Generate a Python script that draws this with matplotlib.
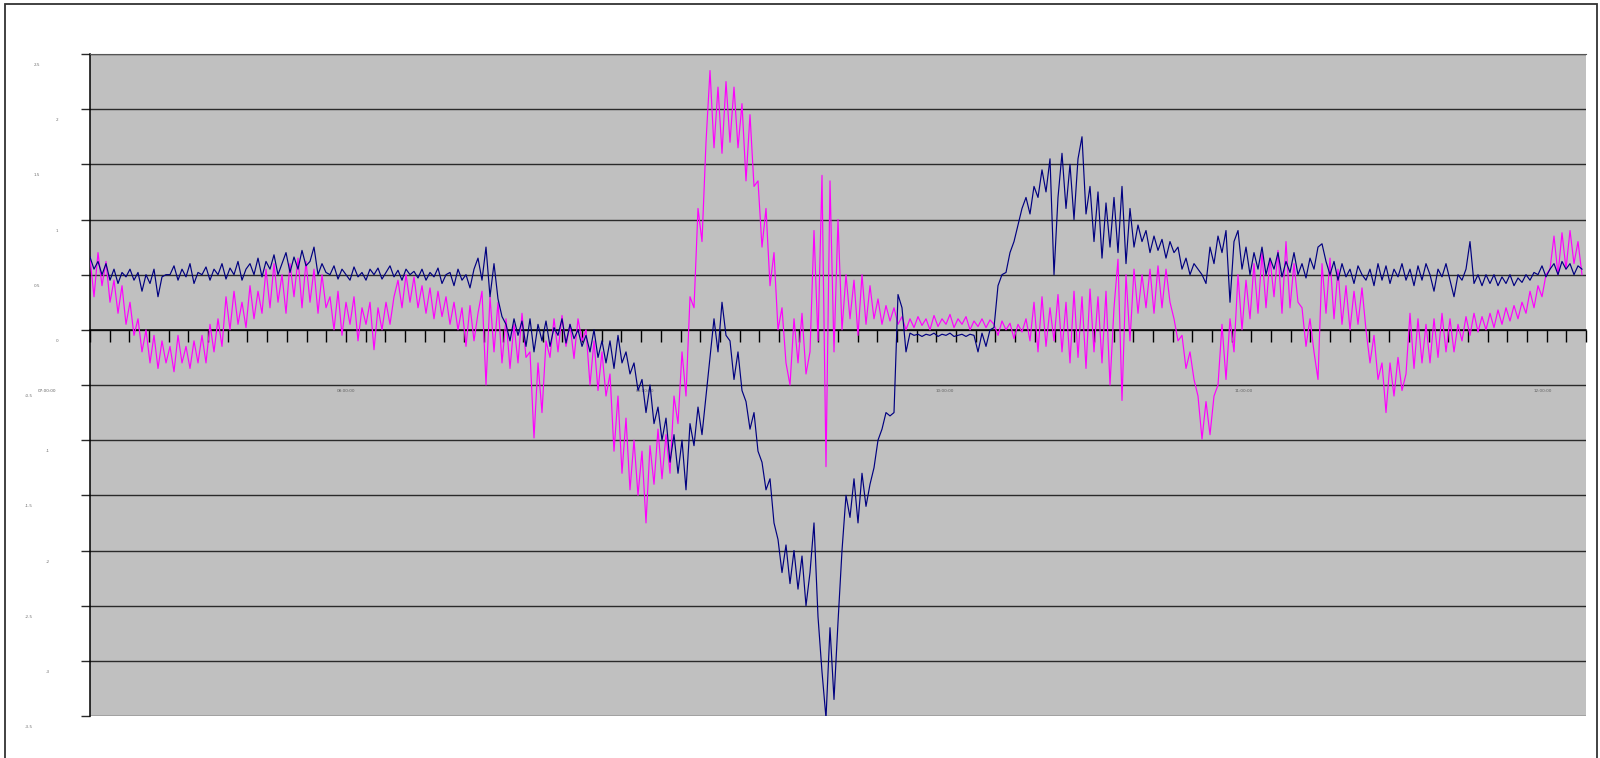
import matplotlib
matplotlib.use('Agg')
import matplotlib.pyplot as plt
import numpy as np
from matplotlib.patches import Rectangle

# readings, one sample every 4 px of the plot area (left to right)
navy_vals = [
    0.66, 0.55, 0.62, 0.5, 0.6, 0.45, 0.55, 0.42, 0.52, 0.48,
    0.55, 0.45, 0.52, 0.35, 0.5, 0.42, 0.55, 0.3, 0.48, 0.5,
    0.5, 0.58, 0.45, 0.55, 0.48, 0.6, 0.42, 0.52, 0.5, 0.57,
    0.45, 0.55, 0.5, 0.6, 0.46, 0.56, 0.5, 0.62, 0.45, 0.55,
    0.6, 0.5, 0.65, 0.48, 0.62, 0.55, 0.68, 0.5, 0.6, 0.7,
    0.52, 0.66, 0.55, 0.72, 0.58, 0.62, 0.75, 0.5, 0.6, 0.52,
    0.5, 0.58, 0.46, 0.55, 0.5, 0.45, 0.57, 0.48, 0.52, 0.45,
    0.55, 0.5, 0.56, 0.46, 0.52, 0.58, 0.48, 0.54, 0.45, 0.55,
    0.5, 0.53, 0.47, 0.55, 0.45, 0.52, 0.48, 0.56, 0.42, 0.5,
    0.52, 0.4, 0.55, 0.45, 0.5, 0.38, 0.55, 0.65, 0.45, 0.75,
    0.3, 0.6, 0.28, 0.12, 0.05, -0.1, 0.1, -0.05, 0.08, -0.15,
    0.1, -0.2, 0.05, -0.1, 0.08, -0.15, 0.02, -0.05, 0.1, -0.12,
    0.05, -0.08, 0.0, -0.15, -0.05, -0.2, 0.0, -0.25, -0.1, -0.3,
    -0.1, -0.35, -0.05, -0.3, -0.2, -0.4, -0.3, -0.55, -0.45, -0.75,
    -0.5, -0.85, -0.7, -1.0, -0.8, -1.2, -0.95, -1.3, -1.0, -1.45,
    -0.85, -1.05, -0.7, -0.95, -0.6, -0.25, 0.1, -0.2, 0.25, -0.05,
    -0.1, -0.45, -0.2, -0.55, -0.65, -0.9, -0.75, -1.1, -1.2, -1.45,
    -1.35, -1.75, -1.9, -2.2, -1.95, -2.3, -2.0, -2.35, -2.05, -2.5,
    -2.2, -1.75, -2.6, -3.1, -3.52, -2.7, -3.35, -2.65, -2.0, -1.5,
    -1.7, -1.35, -1.75, -1.3, -1.6, -1.4, -1.25, -1.0, -0.9, -0.75,
    -0.78, -0.75, 0.32, 0.2, -0.2, -0.03, -0.05, -0.04, -0.06, -0.04,
    -0.05, -0.03, -0.06, -0.04, -0.05, -0.03, -0.06, -0.05, -0.04, -0.06,
    -0.04, -0.05, -0.2, -0.03, -0.15, 0.0, 0.02, 0.4, 0.5, 0.52,
    0.7, 0.8, 0.95, 1.1, 1.2, 1.05, 1.3, 1.2, 1.45, 1.25,
    1.55, 0.5, 1.2, 1.6, 1.1, 1.5, 1.0, 1.55, 1.75, 1.05,
    1.3, 0.8, 1.25, 0.65, 1.15, 0.75, 1.2, 0.7, 1.3, 0.6,
    1.1, 0.75, 0.95, 0.8, 0.9, 0.7, 0.85, 0.72, 0.82, 0.65,
    0.8, 0.7, 0.75, 0.55, 0.65, 0.5, 0.6, 0.55, 0.5, 0.42,
    0.75, 0.6, 0.85, 0.7, 0.9, 0.25, 0.8, 0.9, 0.55, 0.75,
    0.5, 0.7, 0.55, 0.75, 0.5, 0.65, 0.55, 0.7, 0.48, 0.62,
    0.52, 0.7, 0.5, 0.6, 0.47, 0.65, 0.55, 0.75, 0.78, 0.62,
    0.5, 0.62, 0.45, 0.6, 0.48, 0.55, 0.42, 0.58, 0.5, 0.45,
    0.55, 0.4, 0.6, 0.45, 0.58, 0.42, 0.55, 0.48, 0.6, 0.45,
    0.55, 0.4, 0.58, 0.45, 0.6, 0.5, 0.35, 0.55, 0.48, 0.6,
    0.45, 0.3, 0.5, 0.45, 0.55, 0.8, 0.42, 0.5, 0.4, 0.5,
    0.42, 0.5, 0.4, 0.48, 0.42, 0.5, 0.4, 0.47, 0.43, 0.5,
    0.45, 0.52, 0.5, 0.58, 0.48, 0.55, 0.6, 0.5, 0.62, 0.55, 0.6, 0.5, 0.58, 0.55,
]

magenta_vals = [
    0.65, 0.3, 0.7, 0.4, 0.62, 0.25, 0.45, 0.15, 0.4, 0.05,
    0.25, -0.05, 0.1, -0.2, 0.0, -0.3, -0.05, -0.35, -0.1, -0.3,
    -0.15, -0.38, -0.05, -0.3, -0.15, -0.35, -0.1, -0.3, -0.05, -0.3,
    0.05, -0.2, 0.1, -0.15, 0.3, 0.0, 0.35, 0.05, 0.25, 0.02,
    0.4, 0.1, 0.35, 0.15, 0.55, 0.2, 0.6, 0.25, 0.5, 0.15,
    0.6, 0.3, 0.65, 0.2, 0.62, 0.25, 0.55, 0.15, 0.5, 0.2,
    0.3, 0.0, 0.35, -0.05, 0.25, 0.05, 0.3, -0.1, 0.2, 0.05,
    0.25, -0.18, 0.2, 0.0, 0.25, 0.05, 0.3, 0.45, 0.2, 0.5,
    0.25, 0.48, 0.2, 0.4, 0.15, 0.38, 0.1, 0.35, 0.12, 0.3,
    0.05, 0.25, 0.0, 0.2, -0.15, 0.22, -0.1, 0.15, 0.35, -0.5,
    0.3, -0.2, 0.25, -0.3, 0.1, -0.35, 0.05, -0.3, 0.15, -0.25,
    -0.2, -0.98, -0.3, -0.75, -0.1, -0.25, 0.1, -0.2, 0.13, -0.15,
    0.05, -0.26, 0.1, -0.1, 0.0, -0.5, -0.1, -0.55, -0.2, -0.6,
    -0.4, -1.1, -0.6, -1.3, -0.8, -1.45, -1.0, -1.5, -1.1, -1.75,
    -1.05, -1.4, -0.9, -1.35, -0.95, -1.3, -0.6, -0.85, -0.2, -0.6,
    0.3, 0.2, 1.1, 0.8, 1.7, 2.35, 1.65, 2.2, 1.6, 2.25,
    1.7, 2.2, 1.65, 2.05, 1.35, 1.95, 1.3, 1.35, 0.75, 1.1,
    0.4, 0.7, 0.0, 0.2, -0.3, -0.5, 0.1, -0.3, 0.15, -0.4,
    -0.2, 0.9, -0.1, 1.4, -1.24, 1.35, -0.2, 1.0, 0.0, 0.5,
    0.1, 0.45, -0.05, 0.5, 0.05, 0.4, 0.1, 0.28, 0.05, 0.22,
    0.08, 0.2, 0.05, 0.12, 0.0, 0.1, 0.02, 0.12, 0.04, 0.1,
    0.0, 0.13, 0.03, 0.1, 0.05, 0.14, 0.02, 0.1, 0.05, 0.12,
    0.0, 0.08, 0.03, 0.1, 0.02, 0.09, 0.05, -0.05, 0.08, 0.0,
    0.06, -0.08, 0.05, -0.02, 0.1, -0.1, 0.25, -0.2, 0.3, -0.15,
    0.2, -0.1, 0.32, -0.2, 0.25, -0.3, 0.35, -0.25, 0.3, -0.35,
    0.37, -0.2, 0.3, -0.3, 0.35, -0.5, 0.2, 0.64, -0.64, 0.5,
    -0.1, 0.55, 0.15, 0.5, 0.2, 0.55, 0.15, 0.58, 0.2, 0.55,
    0.25, 0.1, -0.1, -0.05, -0.35, -0.2, -0.45, -0.6, -0.99, -0.65,
    -0.95, -0.6, -0.5, 0.05, -0.45, 0.1, -0.2, 0.5, 0.0, 0.45,
    0.1, 0.6, 0.15, 0.7, 0.2, 0.65, 0.3, 0.72, 0.15, 0.8,
    0.2, 0.6, 0.25, 0.2, -0.15, 0.1, -0.2, -0.45, 0.6, 0.15,
    0.65, 0.1, 0.55, 0.05, 0.4, 0.0, 0.35, 0.05, 0.38, 0.0,
    -0.3, -0.05, -0.45, -0.3, -0.75, -0.3, -0.6, -0.25, -0.55, -0.4,
    0.15, -0.35, 0.1, -0.3, 0.05, -0.3, 0.1, -0.25, 0.15, -0.2,
    0.1, -0.2, 0.05, -0.1, 0.12, -0.05, 0.15, -0.02, 0.12, 0.0,
    0.15, 0.02, 0.18, 0.05, 0.2, 0.08, 0.22, 0.1, 0.25, 0.15,
    0.35, 0.2, 0.4, 0.3, 0.5, 0.55, 0.85, 0.5, 0.88, 0.55, 0.9, 0.6, 0.8, 0.5,
]

y_levels = [2.5, 2, 1.5, 1, 0.5, 0, -0.5, -1, -1.5, -2, -2.5, -3, -3.5]
y_labels = ['2.5', '2', '1.5', '1', '0.5', '0', '-0.5', '-1', '-1.5', '-2', '-2.5', '-3', '-3.5']
x_labels = ['07:00:00', '08:00:00', '09:00:00', '10:00:00', '11:00:00', '12:00:00']
n_ticks = 76

fig = plt.figure(figsize=(16, 7.58), dpi=100)
ax = fig.add_axes([90 / 1600, 42 / 758, 1496 / 1600, 662 / 758])
ax.set_facecolor('#c0c0c0')

x_max = 374
ax.plot(np.arange(len(magenta_vals)), magenta_vals, color='#ff00ff', lw=0.85, zorder=3)
ax.plot(np.arange(len(navy_vals)), navy_vals, color='#000080', lw=0.85, zorder=4)

ax.set_xlim(0, x_max)
ax.set_ylim(-3.5, 2.5)

# gridlines / y ticks
ax.set_yticks(y_levels)
ax.set_yticklabels([])
ax.yaxis.grid(True, color='#2a2a2a', lw=1.0)
ax.set_axisbelow(True)
ax.tick_params(axis='y', direction='out', length=6.5, width=1.0, color='#2a2a2a')

# category axis crossing at zero
ax.spines['bottom'].set_position(('data', 0))
ax.spines['bottom'].set_color('black')
ax.spines['bottom'].set_linewidth(1.1)
ax.spines['left'].set_color('black')
ax.spines['left'].set_linewidth(1.1)
ax.spines['top'].set_color('#555555')
ax.spines['right'].set_visible(False)
ax.set_xticks(np.linspace(0, x_max, n_ticks + 1))
ax.set_xticklabels([])
ax.tick_params(axis='x', direction='out', length=8.5, width=1.0, color='black')

# tiny tick labels as in the source
ytrans = ax.get_yaxis_transform()
for val, lab in zip(y_levels, y_labels):
    if lab.startswith('-'):
        xpos = -0.041 if '.' in lab else -0.028
    else:
        xpos = -0.0355 if '.' in lab else -0.022
    ax.text(xpos, val - 0.1, lab, transform=ytrans, fontsize=3, color='#707070',
            ha='center', va='center', clip_on=False)

for k, lab in enumerate(x_labels):
    ax.text(-10.75 + k * x_max / 5, -0.55, lab, fontsize=3, color='#606060',
            ha='center', va='center', clip_on=False, zorder=2)

# outer chart frame
fig.add_artist(Rectangle((5 / 1600, -0.05), 1592 / 1600, 1 - 4 / 758 + 0.05,
                         transform=fig.transFigure, fill=False, ec='#333333', lw=1.3))

fig.savefig('out.png', dpi=100)
